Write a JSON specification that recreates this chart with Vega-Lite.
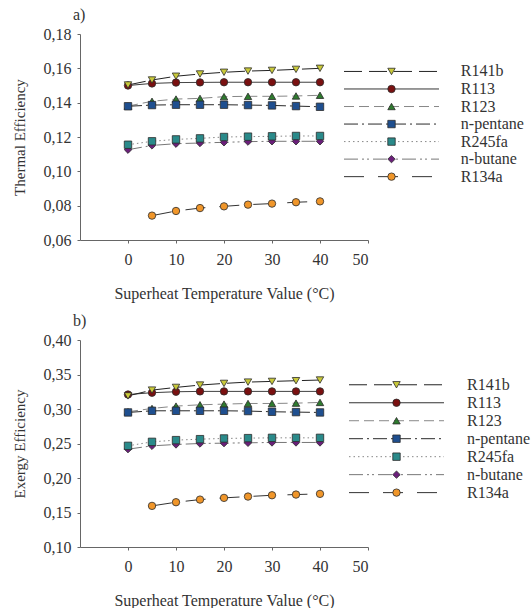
{
  "$schema": "https://vega.github.io/schema/vega-lite/v6.json",
  "background": "white",
  "padding": {"left": 12, "top": 7, "right": 0, "bottom": 0},
  "config": {
    "view": {"stroke": null},
    "font": "Liberation Serif",
    "axis": {
      "grid": false,
      "domainColor": "#666666",
      "tickColor": "#666666",
      "tickSize": 3,
      "labelFont": "Liberation Serif",
      "labelFontSize": 16,
      "labelColor": "#333333",
      "titleFont": "Liberation Serif",
      "titleFontSize": 15,
      "titleFontWeight": "normal",
      "titleColor": "#333333"
    },
    "axisX": {"titleFontSize": 16},
    "title": {"font": "Liberation Serif", "fontSize": 16, "fontWeight": "normal", "color": "#333333", "anchor": "start", "frame": "group"}
  },
  "datasets": {
    "cycle": [
      {"series": "R134a", "superheat": 5, "thermal": 0.0742, "exergy": 0.1596},
      {"series": "R134a", "superheat": 10, "thermal": 0.0769, "exergy": 0.1649},
      {"series": "R134a", "superheat": 15, "thermal": 0.0786, "exergy": 0.1687},
      {"series": "R134a", "superheat": 20, "thermal": 0.0796, "exergy": 0.1712},
      {"series": "R134a", "superheat": 25, "thermal": 0.0806, "exergy": 0.1731},
      {"series": "R134a", "superheat": 30, "thermal": 0.0812, "exergy": 0.1750},
      {"series": "R134a", "superheat": 35, "thermal": 0.0820, "exergy": 0.1760},
      {"series": "R134a", "superheat": 40, "thermal": 0.0825, "exergy": 0.1770},
      {"series": "n-butane", "superheat": 0, "thermal": 0.1126, "exergy": 0.2418},
      {"series": "n-butane", "superheat": 5, "thermal": 0.1151, "exergy": 0.2466},
      {"series": "n-butane", "superheat": 10, "thermal": 0.1161, "exergy": 0.2486},
      {"series": "n-butane", "superheat": 15, "thermal": 0.1165, "exergy": 0.2500},
      {"series": "n-butane", "superheat": 20, "thermal": 0.1169, "exergy": 0.2505},
      {"series": "n-butane", "superheat": 25, "thermal": 0.1173, "exergy": 0.2510},
      {"series": "n-butane", "superheat": 30, "thermal": 0.1175, "exergy": 0.2515},
      {"series": "n-butane", "superheat": 35, "thermal": 0.1175, "exergy": 0.2515},
      {"series": "n-butane", "superheat": 40, "thermal": 0.1175, "exergy": 0.2515},
      {"series": "R245fa", "superheat": 0, "thermal": 0.1155, "exergy": 0.2466},
      {"series": "R245fa", "superheat": 5, "thermal": 0.1175, "exergy": 0.2524},
      {"series": "R245fa", "superheat": 10, "thermal": 0.1186, "exergy": 0.2549},
      {"series": "R245fa", "superheat": 15, "thermal": 0.1192, "exergy": 0.2563},
      {"series": "R245fa", "superheat": 20, "thermal": 0.1200, "exergy": 0.2573},
      {"series": "R245fa", "superheat": 25, "thermal": 0.1202, "exergy": 0.2578},
      {"series": "R245fa", "superheat": 30, "thermal": 0.1204, "exergy": 0.2582},
      {"series": "R245fa", "superheat": 35, "thermal": 0.1206, "exergy": 0.2582},
      {"series": "R245fa", "superheat": 40, "thermal": 0.1206, "exergy": 0.2582},
      {"series": "R123", "superheat": 0, "thermal": 0.1380, "exergy": 0.2960},
      {"series": "R123", "superheat": 5, "thermal": 0.1408, "exergy": 0.3008},
      {"series": "R123", "superheat": 10, "thermal": 0.1421, "exergy": 0.3042},
      {"series": "R123", "superheat": 15, "thermal": 0.1425, "exergy": 0.3061},
      {"series": "R123", "superheat": 20, "thermal": 0.1435, "exergy": 0.3071},
      {"series": "R123", "superheat": 25, "thermal": 0.1437, "exergy": 0.3080},
      {"series": "R123", "superheat": 30, "thermal": 0.1437, "exergy": 0.3080},
      {"series": "R123", "superheat": 35, "thermal": 0.1439, "exergy": 0.3085},
      {"series": "R123", "superheat": 40, "thermal": 0.1443, "exergy": 0.3095},
      {"series": "n-pentane", "superheat": 0, "thermal": 0.1379, "exergy": 0.2950},
      {"series": "n-pentane", "superheat": 5, "thermal": 0.1386, "exergy": 0.2974},
      {"series": "n-pentane", "superheat": 10, "thermal": 0.1388, "exergy": 0.2974},
      {"series": "n-pentane", "superheat": 15, "thermal": 0.1388, "exergy": 0.2974},
      {"series": "n-pentane", "superheat": 20, "thermal": 0.1388, "exergy": 0.2974},
      {"series": "n-pentane", "superheat": 25, "thermal": 0.1386, "exergy": 0.2970},
      {"series": "n-pentane", "superheat": 30, "thermal": 0.1384, "exergy": 0.2960},
      {"series": "n-pentane", "superheat": 35, "thermal": 0.1380, "exergy": 0.2955},
      {"series": "n-pentane", "superheat": 40, "thermal": 0.1376, "exergy": 0.2950},
      {"series": "R113", "superheat": 0, "thermal": 0.1500, "exergy": 0.3210},
      {"series": "R113", "superheat": 5, "thermal": 0.1512, "exergy": 0.3236},
      {"series": "R113", "superheat": 10, "thermal": 0.1517, "exergy": 0.3250},
      {"series": "R113", "superheat": 15, "thermal": 0.1518, "exergy": 0.3255},
      {"series": "R113", "superheat": 20, "thermal": 0.1519, "exergy": 0.3255},
      {"series": "R113", "superheat": 25, "thermal": 0.1519, "exergy": 0.3255},
      {"series": "R113", "superheat": 30, "thermal": 0.1519, "exergy": 0.3255},
      {"series": "R113", "superheat": 35, "thermal": 0.1519, "exergy": 0.3255},
      {"series": "R113", "superheat": 40, "thermal": 0.1519, "exergy": 0.3255},
      {"series": "R141b", "superheat": 0, "thermal": 0.1503, "exergy": 0.3190},
      {"series": "R141b", "superheat": 5, "thermal": 0.1532, "exergy": 0.3274},
      {"series": "R141b", "superheat": 10, "thermal": 0.1554, "exergy": 0.3313},
      {"series": "R141b", "superheat": 15, "thermal": 0.1567, "exergy": 0.3347},
      {"series": "R141b", "superheat": 20, "thermal": 0.1577, "exergy": 0.3371},
      {"series": "R141b", "superheat": 25, "thermal": 0.1584, "exergy": 0.3390},
      {"series": "R141b", "superheat": 30, "thermal": 0.1588, "exergy": 0.3400},
      {"series": "R141b", "superheat": 35, "thermal": 0.1594, "exergy": 0.3410},
      {"series": "R141b", "superheat": 40, "thermal": 0.1600, "exergy": 0.3420}
    ],
    "refrigerants": [
      {"series": "R141b"},
      {"series": "R113"},
      {"series": "R123"},
      {"series": "n-pentane"},
      {"series": "R245fa"},
      {"series": "n-butane"},
      {"series": "R134a"}
    ]
  },
  "vconcat": [
    {
      "title": {"text": "a)", "dx": -7, "offset": 3},
      "width": 288,
      "height": 206,
      "resolve": {"scale": {"x": "independent", "y": "independent"}},
      "layer": [
        {
          "data": {"name": "cycle"},
          "encoding": {
            "x": {"field": "superheat", "type": "quantitative", "title": "Superheat Temperature Value (°C)",
                  "scale": {"domain": [-10, 50], "nice": false, "zero": false},
                  "axis": {"values": [0, 10, 20, 30, 40, 50], "labelPadding": 8, "titlePadding": 18}},
            "y": {"field": "thermal", "type": "quantitative", "title": "Thermal Efficiency",
                  "scale": {"domain": [0.06, 0.18], "nice": false, "zero": false},
                  "axis": {"values": [0.06, 0.08, 0.1, 0.12, 0.14, 0.16, 0.18], "labelExpr": "replace(format(datum.value, '.2f'), '.', ',')", "labelPadding": 6, "titlePadding": 16}}
          },
          "layer": [
            {
              "mark": {"type": "line", "strokeWidth": 1},
              "encoding": {
                "stroke": {"field": "series", "type": "nominal", "legend": null,
                           "scale": {"domain": ["R141b", "R113", "R123", "n-pentane", "R245fa", "n-butane", "R134a"],
                                     "range": ["#222222", "#333333", "#888888", "#2a2a2a", "#888888", "#777777", "#333333"]}},
                "strokeDash": {"field": "series", "type": "nominal", "legend": null,
                               "scale": {"domain": ["R141b", "R113", "R123", "n-pentane", "R245fa", "n-butane", "R134a"],
                                         "range": [[18, 7], [1, 0], [10, 5], [14, 4, 2, 4], [1.5, 3], [14, 4, 2, 3, 2, 4], [20, 14]]}}
              }
            },
            {
              "mark": {"type": "point", "filled": true, "size": 55, "opacity": 1, "stroke": "#2b2b2b", "strokeWidth": 0.8},
              "encoding": {
                "fill": {"field": "series", "type": "nominal", "legend": null,
                         "scale": {"domain": ["R141b", "R113", "R123", "n-pentane", "R245fa", "n-butane", "R134a"],
                                   "range": ["#c9c93a", "#7a1010", "#2e7a2e", "#1f4f8f", "#2a8a8a", "#6b1f7a", "#f0962a"]}},
                "shape": {"field": "series", "type": "nominal", "legend": null,
                          "scale": {"domain": ["R141b", "R113", "R123", "n-pentane", "R245fa", "n-butane", "R134a"],
                                    "range": ["triangle-down", "circle", "triangle-up", "square", "square", "diamond", "circle"]}}
              }
            }
          ]
        },
        {
          "data": {"name": "refrigerants"},
          "encoding": {
            "y": {"field": "series", "type": "nominal", "axis": null,
                  "scale": {"domain": ["R141b", "R113", "R123", "n-pentane", "R245fa", "n-butane", "R134a"], "range": [24.3, 155.8], "padding": 0.5}}
          },
          "layer": [
            {
              "mark": {"type": "rule", "strokeWidth": 1},
              "encoding": {
                "x": {"datum": 0, "type": "quantitative", "axis": null, "scale": {"domain": [-2.779, 0.2526], "nice": false, "zero": false}},
                "x2": {"datum": 1},
                "stroke": {"field": "series", "type": "nominal", "legend": null},
                "strokeDash": {"field": "series", "type": "nominal", "legend": null}
              }
            },
            {
              "mark": {"type": "point", "filled": true, "size": 55, "opacity": 1, "stroke": "#2b2b2b", "strokeWidth": 0.8},
              "encoding": {
                "x": {"datum": 0.5, "type": "quantitative", "axis": null, "scale": {"domain": [-2.779, 0.2526], "nice": false, "zero": false}},
                "fill": {"field": "series", "type": "nominal", "legend": null},
                "shape": {"field": "series", "type": "nominal", "legend": null}
              }
            },
            {
              "mark": {"type": "text", "align": "left", "baseline": "middle", "font": "Liberation Serif", "fontSize": 16, "color": "#333333"},
              "encoding": {
                "x": {"datum": 1.23, "type": "quantitative", "axis": null, "scale": {"domain": [-2.779, 0.2526], "nice": false, "zero": false}},
                "text": {"field": "series"}
              }
            }
          ]
        }
      ]
    },
    {
      "title": {"text": "b)", "dx": -7, "offset": 3},
      "width": 288,
      "height": 207,
      "resolve": {"scale": {"x": "independent", "y": "independent"}},
      "layer": [
        {
          "data": {"name": "cycle"},
          "encoding": {
            "x": {"field": "superheat", "type": "quantitative", "title": "Superheat Temperature Value (°C)",
                  "scale": {"domain": [-10, 50], "nice": false, "zero": false},
                  "axis": {"values": [0, 10, 20, 30, 40, 50], "labelPadding": 8, "titlePadding": 18}},
            "y": {"field": "exergy", "type": "quantitative", "title": "Exergy Efficiency",
                  "scale": {"domain": [0.1, 0.4], "nice": false, "zero": false},
                  "axis": {"values": [0.1, 0.15, 0.2, 0.25, 0.3, 0.35, 0.4], "labelExpr": "replace(format(datum.value, '.2f'), '.', ',')", "labelPadding": 6, "titlePadding": 16}}
          },
          "layer": [
            {
              "mark": {"type": "line", "strokeWidth": 1},
              "encoding": {
                "stroke": {"field": "series", "type": "nominal", "legend": null,
                           "scale": {"domain": ["R141b", "R113", "R123", "n-pentane", "R245fa", "n-butane", "R134a"],
                                     "range": ["#222222", "#333333", "#888888", "#2a2a2a", "#888888", "#777777", "#333333"]}},
                "strokeDash": {"field": "series", "type": "nominal", "legend": null,
                               "scale": {"domain": ["R141b", "R113", "R123", "n-pentane", "R245fa", "n-butane", "R134a"],
                                         "range": [[18, 7], [1, 0], [10, 5], [14, 4, 2, 4], [1.5, 3], [14, 4, 2, 3, 2, 4], [20, 14]]}}
              }
            },
            {
              "mark": {"type": "point", "filled": true, "size": 55, "opacity": 1, "stroke": "#2b2b2b", "strokeWidth": 0.8},
              "encoding": {
                "fill": {"field": "series", "type": "nominal", "legend": null,
                         "scale": {"domain": ["R141b", "R113", "R123", "n-pentane", "R245fa", "n-butane", "R134a"],
                                   "range": ["#c9c93a", "#7a1010", "#2e7a2e", "#1f4f8f", "#2a8a8a", "#6b1f7a", "#f0962a"]}},
                "shape": {"field": "series", "type": "nominal", "legend": null,
                          "scale": {"domain": ["R141b", "R113", "R123", "n-pentane", "R245fa", "n-butane", "R134a"],
                                    "range": ["triangle-down", "circle", "triangle-up", "square", "square", "diamond", "circle"]}}
              }
            }
          ]
        },
        {
          "data": {"name": "refrigerants"},
          "encoding": {
            "y": {"field": "series", "type": "nominal", "axis": null,
                  "scale": {"domain": ["R141b", "R113", "R123", "n-pentane", "R245fa", "n-butane", "R134a"], "range": [31.3, 166.1], "padding": 0.5}}
          },
          "layer": [
            {
              "mark": {"type": "rule", "strokeWidth": 1},
              "encoding": {
                "x": {"datum": 0, "type": "quantitative", "axis": null, "scale": {"domain": [-2.832, 0.2], "nice": false, "zero": false}},
                "x2": {"datum": 1},
                "stroke": {"field": "series", "type": "nominal", "legend": null},
                "strokeDash": {"field": "series", "type": "nominal", "legend": null}
              }
            },
            {
              "mark": {"type": "point", "filled": true, "size": 55, "opacity": 1, "stroke": "#2b2b2b", "strokeWidth": 0.8},
              "encoding": {
                "x": {"datum": 0.5, "type": "quantitative", "axis": null, "scale": {"domain": [-2.832, 0.2], "nice": false, "zero": false}},
                "fill": {"field": "series", "type": "nominal", "legend": null},
                "shape": {"field": "series", "type": "nominal", "legend": null}
              }
            },
            {
              "mark": {"type": "text", "align": "left", "baseline": "middle", "font": "Liberation Serif", "fontSize": 16, "color": "#333333"},
              "encoding": {
                "x": {"datum": 1.242, "type": "quantitative", "axis": null, "scale": {"domain": [-2.832, 0.2], "nice": false, "zero": false}},
                "text": {"field": "series"}
              }
            }
          ]
        }
      ]
    }
  ],
  "spacing": 12
}
